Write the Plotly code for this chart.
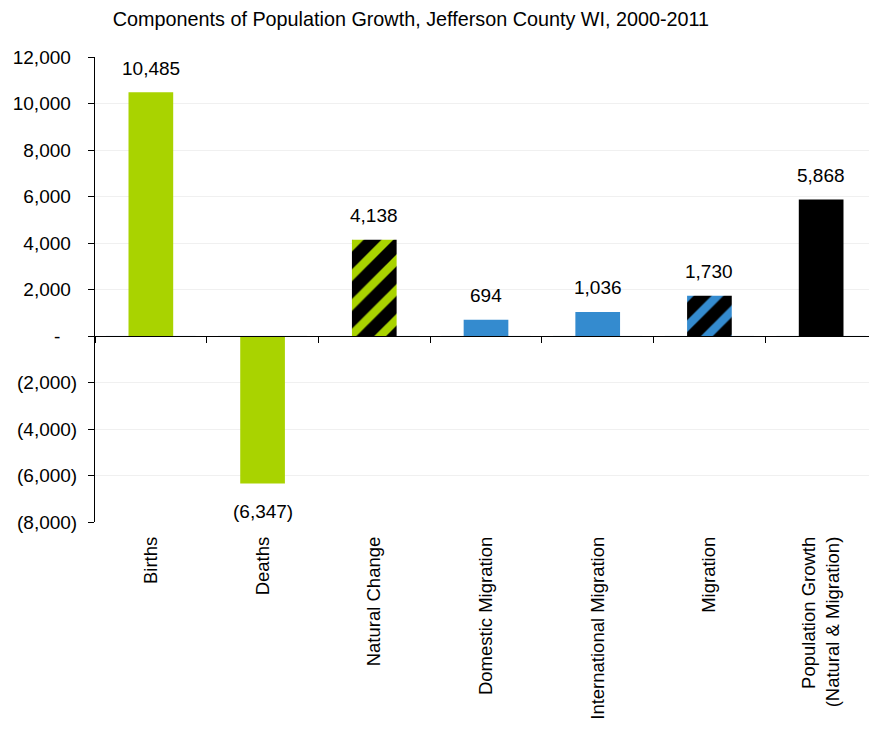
import plotly.graph_objects as go

categories = ["Births", "Deaths", "Natural Change", "Domestic Migration",
              "International Migration", "Migration",
              "Population Growth<br>(Natural & Migration)"]
values = [10485, -6347, 4138, 694, 1036, 1730, 5868]
value_labels = ["10,485", "(6,347)", "4,138", "694", "1,036", "1,730", "5,868"]
ytick_vals = [-8000, -6000, -4000, -2000, 0, 2000, 4000, 6000, 8000, 10000, 12000]
ytick_text = ["(8,000)", "(6,000)", "(4,000)", "(2,000)", "-", "2,000", "4,000",
              "6,000", "8,000", "10,000", "12,000"]

GREEN = "#A9D300"
BLUE = "#348BCF"
bar_colors = [GREEN, GREEN, "black", BLUE, BLUE, "black", "black"]
pat_shapes = ["", "", "/", "", "", "/", ""]
pat_fg = [GREEN, GREEN, GREEN, BLUE, BLUE, BLUE, "black"]

FONT = "Liberation Sans, Arial, sans-serif"
HIDE = "<span style='color:rgba(0,0,0,0)'>{}</span>"


def pad_tick(t):
    # accounting-style alignment: positives leave room for ")", zero for "0)"
    if t.startswith("("):
        return t
    if t == "-":
        return t + HIDE.format("0)")
    return t + HIDE.format(")")


fig = go.Figure()
for cat, val, col, shp, fg in zip(categories, values, bar_colors, pat_shapes, pat_fg):
    marker = dict(color=col, line=dict(width=0))
    if shp:
        marker["pattern"] = dict(shape=shp, fgcolor=fg, bgcolor="black",
                                 size=21, solidity=0.4, fillmode="replace")
    fig.add_trace(go.Bar(x=[cat], y=[val], xaxis="x2", yaxis="y", marker=marker,
                         width=0.4, hoverinfo="skip", showlegend=False))

# invisible trace to carry the bottom category labels
fig.add_trace(go.Bar(x=categories, y=[0] * len(categories), xaxis="x", yaxis="y",
                     marker=dict(color="rgba(0,0,0,0)"), showlegend=False,
                     hoverinfo="skip"))

for cat, val, lab in zip(categories, values, value_labels):
    fig.add_annotation(x=cat, y=val, xref="x", yref="y", text=lab, showarrow=False,
                       yanchor="middle", yshift=24 if val >= 0 else -28,
                       font=dict(family=FONT, size=19, color="black"))

fig.update_layout(
    width=869, height=722,
    margin=dict(l=87, r=0, t=49, b=208, autoexpand=False),
    paper_bgcolor="white", plot_bgcolor="white",
    font=dict(family=FONT, size=19, color="black"),
    title=dict(text="Components of Population Growth, Jefferson County WI, 2000-2011",
               x=0.4637, xanchor="center", y=0.9847, yanchor="middle",
               font=dict(size=19.8, color="black")),
    barmode="overlay",
    yaxis=dict(range=[-8000, 12000], tickvals=ytick_vals,
               ticktext=[pad_tick(t) for t in ytick_text],
               showline=True, linecolor="black", linewidth=1,
               ticks="outside", ticklen=6, tickcolor="black",
               showgrid=True, gridcolor="#f0f0f0", zeroline=False,
               ticklabelstandoff=7, tickfont=dict(size=19), automargin=False),
    xaxis=dict(showline=False, ticks="", showgrid=False, tickangle=-90,
               tickfont=dict(size=18.5), ticklabelstandoff=10, zeroline=False,
               automargin=False),
    xaxis2=dict(overlaying="x", matches="x", anchor="free", position=0.4,
                showline=True, linecolor="black", linewidth=1,
                ticks="outside", ticklen=6, tickcolor="black",
                tickson="boundaries", showticklabels=False, showgrid=False,
                side="bottom"),
)

fig.write_html("out.html")
